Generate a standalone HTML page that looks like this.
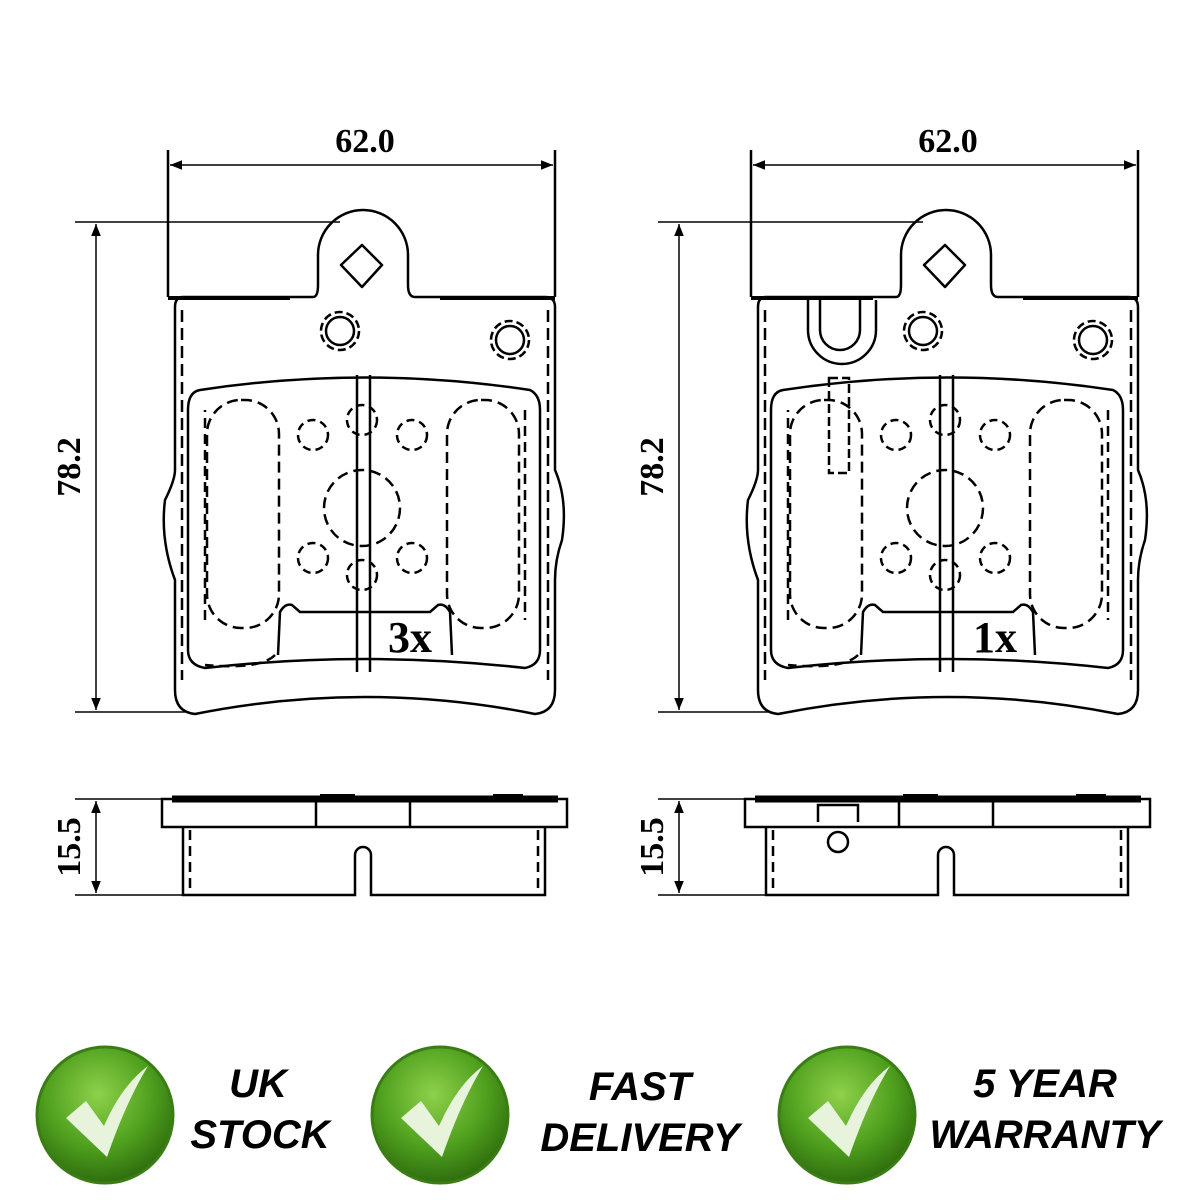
<!DOCTYPE html>
<html><head><meta charset="utf-8"><style>
html,body{margin:0;padding:0;background:#fff;width:1200px;height:1200px;overflow:hidden}
svg{display:block}
</style></head><body>
<svg width="1200" height="1200" viewBox="0 0 1200 1200" xmlns="http://www.w3.org/2000/svg">
<defs>
<radialGradient id="gg" cx="45%" cy="35%" r="65%">
<stop offset="0" stop-color="#8fd14a"/><stop offset="0.6" stop-color="#4fa01e"/><stop offset="1" stop-color="#2f6e0e"/>
</radialGradient>
<marker id="ar" viewBox="0 0 10 10" refX="10" refY="5" markerWidth="10" markerHeight="8" orient="auto-start-reverse"><path d="M0,1 L10,5 L0,9 z" fill="#000"/></marker>
<g id="pad" fill="none" stroke="#000" stroke-width="2.5">
  <path d="M183,297 L313,297 Q318,297 318,285 L318,255 A45,45 0 0 1 408,255 L408,285 Q408,297 415,297 L545,297 Q555,297 555,307 L555,470 Q568,500 562,540 Q555,560 555,580 L555,690 Q555,712 535,714 Q365,680 195,714 Q175,712 175,690 L175,580 Q160,540 165,500 Q175,480 175,470 L175,307 Q175,297 183,297 Z"/>
  <path d="M168,298 L290,298 M440,298 L555,298" stroke-width="4"/>
  <path d="M362,245 L382,265 L362,287 L341,265 Z" stroke-linejoin="round"/>
  <circle cx="340" cy="331" r="14"/><circle cx="340" cy="331" r="19" stroke-dasharray="8 4"/>
  <circle cx="510" cy="340" r="14"/><circle cx="510" cy="340" r="19" stroke-dasharray="8 4"/>
  <path d="M200,390 Q365,365 530,390 Q540,395 540,410 L540,650 Q540,665 525,668 Q365,650 205,668 Q188,665 188,650 L188,410 Q188,392 200,390 Z"/>
  <path d="M182,310 L182,680 M548,310 L548,680" stroke-dasharray="12 6"/>
  <path d="M205,620 L205,410 M525,410 L525,620" stroke-dasharray="10 6"/>
  <path d="M275,655 Q260,670 205,665" stroke-dasharray="10 6"/>
  <rect x="207" y="400" width="72" height="228" rx="34" stroke-dasharray="11 6"/>
  <rect x="447" y="400" width="72" height="228" rx="34" stroke-dasharray="11 6"/>
  <path d="M278,655 L280,612 Q285,603 292,605 L300,612 L430,612 L438,605 Q445,603 450,612 L452,655"/>
  <path d="M357,375 L357,672 M370,375 L370,672"/>
  <circle cx="362" cy="508" r="38" stroke-dasharray="11 6"/>
  <circle cx="362" cy="420" r="15" stroke-dasharray="8 5"/>
  <circle cx="362" cy="575" r="15" stroke-dasharray="8 5"/>
  <circle cx="313" cy="435" r="15" stroke-dasharray="8 5"/>
  <circle cx="412" cy="435" r="15" stroke-dasharray="8 5"/>
  <circle cx="313" cy="558" r="15" stroke-dasharray="8 5"/>
  <circle cx="412" cy="558" r="15" stroke-dasharray="8 5"/>
  <rect x="162" y="799" width="405" height="28"/>
  <path d="M172,799 L558,799" stroke-width="7"/>
  <path d="M320,797 L355,797 M493,797 L523,797" stroke-width="6"/>
  <path d="M316,800 L316,827 M410,800 L410,827"/>
  <path d="M183,827 L183,895 L355,895 L355,855 A8,8 0 0 1 371,855 L371,895 L545,895 L545,827"/>
  <path d="M190,830 L190,893 M538,830 L538,893" stroke-dasharray="10 6"/>
  <path d="M168,150 L168,297 M555,150 L555,297"/>
  <path d="M170,165 L553,165" stroke-width="1.5" marker-start="url(#ar)" marker-end="url(#ar)"/>
  <path d="M75,222 L340,222 M75,712 L185,712" stroke-width="1.5"/>
  <path d="M96,224 L96,710" stroke-width="1.5" marker-start="url(#ar)" marker-end="url(#ar)"/>
  <path d="M75,799 L165,799 M75,895 L183,895" stroke-width="1.5"/>
  <path d="M96,801 L96,893" stroke-width="1.5" marker-start="url(#ar)" marker-end="url(#ar)"/>
</g>
</defs>
<use href="#pad"/>
<use href="#pad" x="583"/>
<g fill="none" stroke="#000" stroke-width="2.5">
  <rect x="806" y="300" width="72" height="12" fill="#fff" stroke="none"/>
  <path d="M808,300 L808,330 A34,34 0 0 0 876,330 L876,300"/>
  <path d="M820,300 L820,330 A20,20 0 0 0 860,330 L860,300"/>
  <rect x="829" y="378" width="20" height="95" stroke-dasharray="9 4"/>
  <path d="M818,822 L818,805 L858,805 L858,822"/>
  <circle cx="838" cy="842" r="10"/>
</g>
<g font-family="Liberation Serif, serif" font-weight="bold" font-size="34" fill="#000">
  <text x="365" y="152" text-anchor="middle">62.0</text>
  <text x="948" y="152" text-anchor="middle">62.0</text>
  <text transform="translate(80,467) rotate(-90)" text-anchor="middle">78.2</text>
  <text transform="translate(663,467) rotate(-90)" text-anchor="middle">78.2</text>
  <text transform="translate(80,847) rotate(-90)" text-anchor="middle">15.5</text>
  <text transform="translate(663,847) rotate(-90)" text-anchor="middle">15.5</text>
  <text x="410" y="652" text-anchor="middle" font-size="44">3x</text>
  <text x="995" y="652" text-anchor="middle" font-size="44">1x</text>
</g>
<g>
  <circle cx="105" cy="1115" r="68" fill="url(#gg)" stroke="#3a7d14" stroke-width="3"/>
  <circle cx="440" cy="1115" r="68" fill="url(#gg)" stroke="#3a7d14" stroke-width="3"/>
  <circle cx="847" cy="1115" r="68" fill="url(#gg)" stroke="#3a7d14" stroke-width="3"/>
  <path d="M66,1118 L86,1101 L104,1126 Q122,1085 148,1066 Q126,1102 107,1157 Z" fill="#e8f3dc"/>
  <path d="M401,1118 L421,1101 L439,1126 Q457,1085 483,1066 Q461,1102 442,1157 Z" fill="#e8f3dc"/>
  <path d="M808,1118 L828,1101 L846,1126 Q864,1085 890,1066 Q868,1102 849,1157 Z" fill="#e8f3dc"/>
</g>
<g font-family="Liberation Sans, sans-serif" font-weight="bold" font-style="italic" font-size="40" fill="#000" text-anchor="middle">
  <text x="258" y="1097">UK</text>
  <text x="260" y="1148">STOCK</text>
  <text x="640" y="1100">FAST</text>
  <text x="640" y="1151">DELIVERY</text>
  <text x="1045" y="1097">5 YEAR</text>
  <text x="1045" y="1148">WARRANTY</text>
</g>
</svg>
</body></html>
